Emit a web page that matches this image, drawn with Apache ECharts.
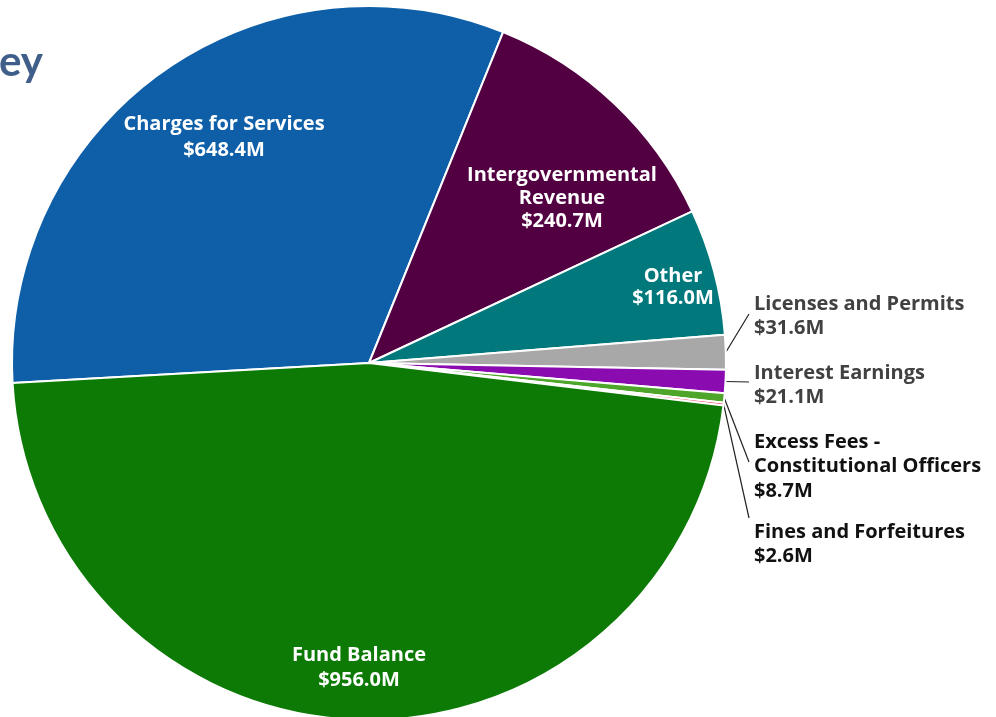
<!DOCTYPE html>
<html>
<head>
<meta charset="utf-8">
<script src="https://cdn.jsdelivr.net/npm/echarts@6/dist/echarts.min.js"></script>
<style>
  html, body { margin: 0; padding: 0; background: #ffffff; }
  #chart { width: 996px; height: 717px; }
</style>
</head>
<body>
<div id="chart"></div>
<script>
// Revenue sources, in millions of dollars (clockwise from the left edge)
const categories = [
  'Charges for Services',
  'Intergovernmental\nRevenue',
  'Other',
  'Licenses and Permits',
  'Interest Earnings',
  'Excess Fees -\nConstitutional Officers',
  'Fines and Forfeitures',
  'Fund Balance'
];
const values = [648.4, 240.7, 116.0, 31.6, 21.1, 8.7, 2.6, 956.0];

const colors = ['#0e5fa7', '#520041', '#00787c', '#a8a8a8', '#8a0bb0', '#4da52a', '#e8345a', '#0c7a05'];

// Label placement: inner labels by block centre, outer labels by top-left + leader end
const labelPlacement = [
  { inside: true, x: 224, y: 137, lh: 26 },
  { inside: true, x: 562, y: 198, lh: 23 },
  { inside: true, x: 673, y: 287, lh: 22 },
  { inside: false, x: 754, y: 292, lx: 749, ly: 314, color: '#414141' },
  { inside: false, x: 754, y: 361, lx: 749, ly: 382, color: '#414141' },
  { inside: false, x: 754, y: 430, lx: 749, ly: 462, color: '#111111' },
  { inside: false, x: 754, y: 520, lx: 749, ly: 518, color: '#111111' },
  { inside: true, x: 359, y: 668, lh: 25 }
];

const FONT = '"Open Sans", Lato, sans-serif';

const data = categories.map((name, i) => {
  const p = labelPlacement[i];
  return {
    name: name,
    value: values[i],
    itemStyle: { color: colors[i] },
    label: p.inside
      ? { color: '#ffffff', align: 'center', lineHeight: p.lh }
      : { color: p.color, align: 'left', lineHeight: 24.5 },
    labelLine: { show: !p.inside }
  };
});

const chart = echarts.init(document.getElementById('chart'), null, { renderer: 'canvas' });

chart.setOption({
  animation: false,
  backgroundColor: '#ffffff',
  graphic: [{
    type: 'text',
    left: -1,
    top: 41,
    style: {
      text: 'ey',
      fill: '#3f5f8a',
      font: 'bold 42px Lato, sans-serif'
    }
  }],
  series: [{
    type: 'pie',
    center: [369, 363],
    radius: [0, 357],
    startAngle: 183.2,
    clockwise: true,
    avoidLabelOverlap: false,
    itemStyle: { borderColor: '#ffffff', borderWidth: 2 },
    label: {
      show: true,
      position: 'outside',
      fontFamily: FONT,
      fontWeight: 'bold',
      fontSize: 20,
      formatter: (p) => p.name + '\n$' + p.value.toFixed(1) + 'M'
    },
    labelLine: {
      show: true,
      length: 10,
      length2: 10,
      lineStyle: { color: '#222222', width: 1.2 }
    },
    labelLayout: (params) => {
      const p = labelPlacement[params.dataIndex];
      if (p.inside) {
        return { x: p.x, y: p.y, align: 'center', verticalAlign: 'middle' };
      }
      const pts = params.labelLinePoints;
      const start = pts ? pts[0] : [p.lx - 22, p.ly];
      return {
        x: p.x,
        y: p.y,
        align: 'left',
        verticalAlign: 'top',
        labelLinePoints: [start, [p.lx, p.ly], [p.lx, p.ly]]
      };
    },
    data: data
  }]
});
</script>
</body>
</html>
